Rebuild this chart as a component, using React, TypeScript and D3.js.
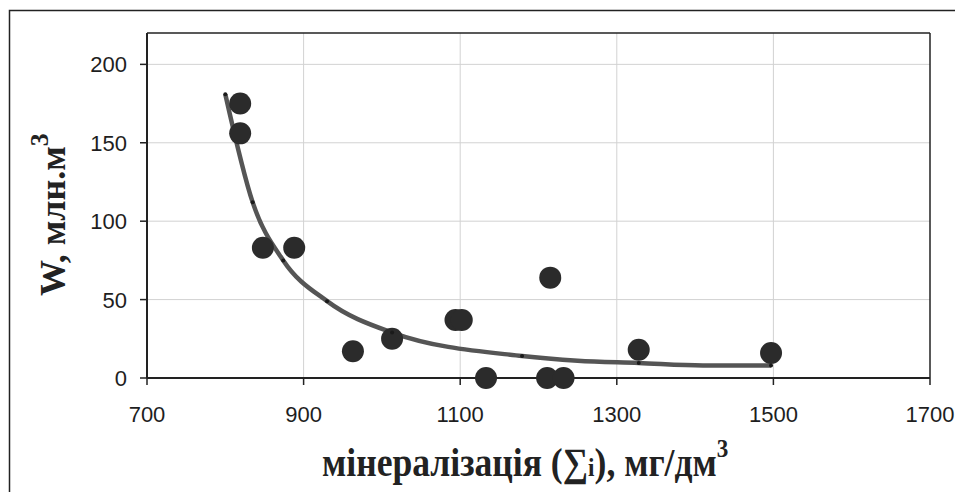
import React from 'react';
import * as d3 from 'd3';

// scatter: mineralization vs W
const pointX = [819, 819, 848, 888, 963, 1013, 1094, 1102, 1133, 1211, 1215, 1232, 1328, 1497];
const pointY = [175, 156, 83, 83, 17, 25, 37, 37, 0, 0, 64, 0, 18, 16];

// trend curve
const trendX = [800, 835, 874, 930, 1013, 1179, 1250, 1328, 1410, 1497];
const trendY = [181, 112, 75, 49, 29, 14, 11, 9.6, 8, 8];
const markX = [800, 835, 874, 930, 1013, 1179, 1328, 1497];
const markY = [181, 112, 75, 49, 29, 14, 9.6, 8];

const xTicks = [700, 900, 1100, 1300, 1500, 1700];
const yTicks = [0, 50, 100, 150, 200];

const W = 955;
const H = 492;
const left = 147, right = 930, top = 33, bottom = 378;

const App = () => {
  const x = d3.scaleLinear().domain([700, 1700]).range([left, right]);
  const y = d3.scaleLinear().domain([0, 220]).range([bottom, top]);

  const line = d3.line<number>()
    .x((d, i) => x(trendX[i]))
    .y((d) => y(d))
    .curve(d3.curveMonotoneX);

  return (
    <svg width={W} height={H} style={{ position: 'absolute', left: 0, top: 0, background: '#fff' }}>
      <rect x={9.5} y={10.5} width={970} height={500} fill="#fff" stroke="#222" strokeWidth={1.5} />

      {/* grid */}
      {yTicks.filter(t => t > 0).map(t => (
        <line key={'gy' + t} x1={left} x2={right} y1={y(t)} y2={y(t)} stroke="#d2d2d2" strokeWidth={1} />
      ))}
      {xTicks.filter(t => t > 700 && t < 1700).map(t => (
        <line key={'gx' + t} x1={x(t)} x2={x(t)} y1={top} y2={bottom} stroke="#d2d2d2" strokeWidth={1} />
      ))}

      {/* frame */}
      <line x1={left} x2={right} y1={top} y2={top} stroke="#222" strokeWidth={1.5} />
      <line x1={right} x2={right} y1={top} y2={bottom} stroke="#222" strokeWidth={1.5} />
      <line x1={left} x2={left} y1={top} y2={bottom} stroke="#222" strokeWidth={2} />
      <line x1={left} x2={right} y1={bottom} y2={bottom} stroke="#222" strokeWidth={2} />

      {/* ticks */}
      {yTicks.map(t => (
        <g key={'ty' + t}>
          <line x1={left - 7} x2={left} y1={y(t)} y2={y(t)} stroke="#222" strokeWidth={1.5} />
          <text x={127} y={y(t)} dy="0.36em" textAnchor="end" fontFamily="Liberation Sans, Arial, sans-serif" fontSize={22} fill="#1e1e1e">{t}</text>
        </g>
      ))}
      {xTicks.map(t => (
        <g key={'tx' + t}>
          <line x1={x(t)} x2={x(t)} y1={bottom} y2={bottom + 7} stroke="#222" strokeWidth={1.5} />
          <text x={x(t)} y={422} textAnchor="middle" fontFamily="Liberation Sans, Arial, sans-serif" fontSize={22} fill="#1e1e1e">{t}</text>
        </g>
      ))}

      {/* trend */}
      <path d={line(trendY) || ''} fill="none" stroke="#555" strokeWidth={4.5} />

      {pointX.map((v, i) => (
        <circle key={'p' + i} cx={x(v)} cy={y(pointY[i])} r={11} fill="#2b2b2b" />
      ))}

      {markX.map((v, i) => (
        <circle key={'m' + i} cx={x(v)} cy={y(markY[i])} r={2} fill="#1a1a1a" />
      ))}

      {/* axis titles */}
      <text transform="translate(322,476) scale(0.89,1)" fontFamily="Liberation Serif, Times New Roman, serif" fontWeight="bold" fontSize={40} fill="#222">
        мінералізація (∑<tspan fontSize={26}>i</tspan>), мг/дм<tspan fontSize={26} dy={-19}>3</tspan>
      </text>
      <text transform="translate(65,296) rotate(-90)" fontFamily="Liberation Serif, Times New Roman, serif" fontWeight="bold" fontSize={36} fill="#222">
        W, млн.м<tspan fontSize={26} dy={-17}>3</tspan>
      </text>
    </svg>
  );
};

export default App;
